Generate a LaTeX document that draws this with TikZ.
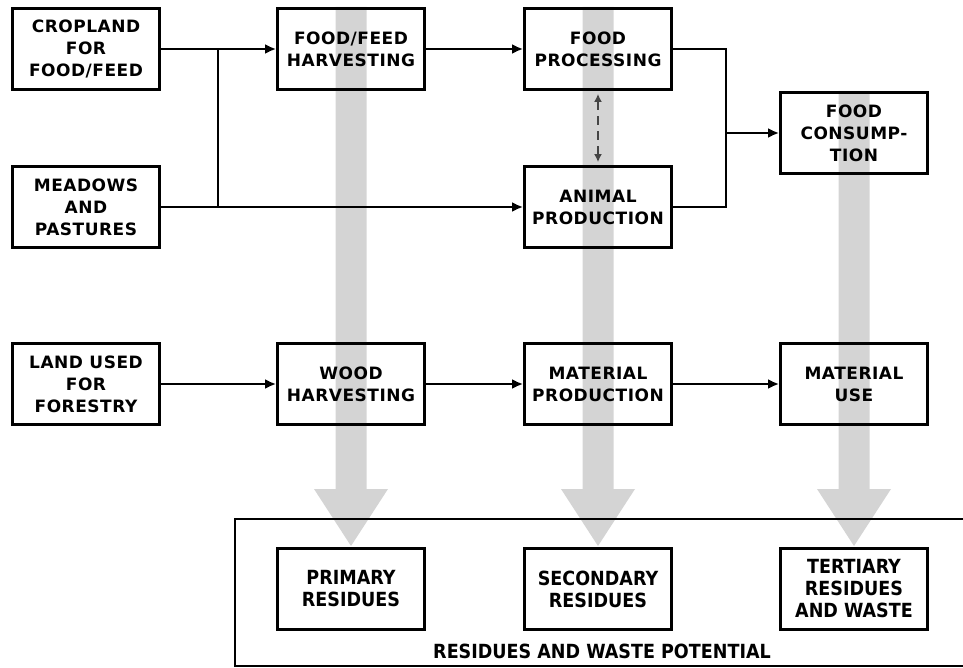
\documentclass[tikz,border=0pt]{standalone}
\usepackage{fontspec}
\setmainfont{DejaVu Sans}[LetterSpace=3]
\newfontfamily\condfont{DejaVu Sans Condensed}
\usepackage{xcolor}
\definecolor{flowgray}{HTML}{D4D4D4}
\definecolor{linkgray}{HTML}{454545}
\usetikzlibrary{arrows.meta}

\tikzset{
  stagebox/.style={draw, line width=2.8pt, minimum width=147pt, minimum height=81pt,
    inner sep=0pt, align=center, font=\bfseries\fontsize{17}{22}\selectfont},
  residuebox/.style={stagebox, font=\condfont\bfseries\fontsize{19.5}{22}\selectfont},
  link/.style={line width=2.2pt, -{Latex[length=11pt,width=10pt]}}
}

\begin{document}
\begin{tikzpicture}[x=1pt,y=-1pt]
  \useasboundingbox (0,0) rectangle (963,668);
  % wide grey flows down to the residues
  \foreach \cx/\ytop in {351/7, 598/7, 854/91} {
    \fill[flowgray] ({\cx-15.5},\ytop) -- ({\cx+15.5},\ytop) -- ({\cx+15.5},489)
      -- ({\cx+37},489) -- (\cx,546) -- ({\cx-37},489) -- ({\cx-15.5},489) -- cycle;
  }
  \draw[line width=2.4pt] (235,519) rectangle (975,666);
  \node (potential) at (602,651) {\condfont\bfseries\fontsize{19.5}{22}\selectfont RESIDUES AND WASTE POTENTIAL};

  \node[stagebox] (cropland) at (86,49) {CROPLAND\\FOR\\FOOD/FEED};
  \node[stagebox] (meadows) at (86,207) {MEADOWS\\AND\\PASTURES};
  \node[stagebox] (forestry) at (86,384) {LAND USED\\FOR\\FORESTRY};
  \node[stagebox] (harvest) at (351,49) {FOOD/FEED\\HARVESTING};
  \node[stagebox] (wood) at (351,384) {WOOD\\HARVESTING};
  \node[stagebox] (processing) at (598,49) {FOOD\\PROCESSING};
  \node[stagebox] (animal) at (598,207) {ANIMAL\\PRODUCTION};
  \node[stagebox] (matprod) at (598,384) {MATERIAL\\PRODUCTION};
  \node[stagebox] (consumption) at (854,133) {FOOD\\CONSUMP-\\TION};
  \node[stagebox] (matuse) at (854,384) {MATERIAL\\USE};
  \node[residuebox] (primary) at (351,589) {PRIMARY\\RESIDUES};
  \node[residuebox] (secondary) at (598,589) {SECONDARY\\RESIDUES};
  \node[residuebox] (tertiary) at (854,589) {TERTIARY\\RESIDUES\\AND WASTE};

  \coordinate (split) at (218,49);
  \coordinate (merge) at (726,133);

  \draw[link] (cropland) -- (harvest);
  \draw[link] (meadows) -- (animal);
  \draw[line width=2.2pt] (split) -- (split |- meadows.east);
  \draw[link] (harvest) -- (processing);
  \draw[line width=2.2pt] (processing.east) -| (merge) |- (animal.east);
  \draw[link] (merge) -- (consumption);
  \draw[line width=2.2pt, linkgray, dash pattern=on 9pt off 6pt,
    {Latex[length=8pt,width=8pt]}-{Latex[length=8pt,width=8pt]}]
    ([yshift=-3pt]processing.south) -- ([yshift=3pt]animal.north);
  \draw[link] (forestry) -- (wood);
  \draw[link] (wood) -- (matprod);
  \draw[link] (matprod) -- (matuse);
\end{tikzpicture}
\end{document}
